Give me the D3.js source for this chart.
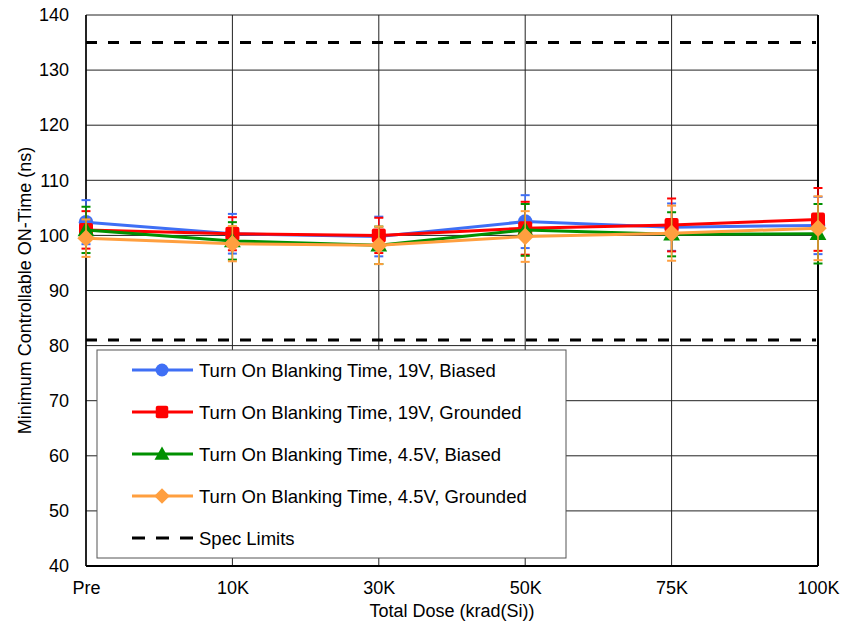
<!DOCTYPE html>
<html><head><meta charset="utf-8">
<script src="https://cdn.jsdelivr.net/npm/d3@7"></script>
<style>body{margin:0;background:#fff}svg{display:block;font-family:"Liberation Sans",Arial,sans-serif}</style>
</head><body>
<svg id="c" width="843" height="632"></svg>
<script>
const categories = ["Pre","10K","30K","50K","75K","100K"];
const yTicks = [40,50,60,70,80,90,100,110,120,130,140];
const blue19B   = [102.4,100.3,99.8,102.5,101.5,101.8];
const blue19Err = [4.0,3.6,3.6,4.8,4.3,5.2];
const red19G    = [101.0,100.3,100.0,101.3,101.9,102.9];
const red19Err  = [3.4,3.0,3.2,4.8,4.8,5.7];
const green45B  = [101.0,99.0,98.2,101.0,100.2,100.3];
const green45Err= [4.2,3.4,3.4,4.7,4.0,5.4];
const orange45G = [99.5,98.5,98.2,99.8,100.4,101.3];
const orange45Err=[3.4,3.2,3.4,4.6,5.0,5.8];
const specLimits = [135,81];
const seriesNames = ["Turn On Blanking Time, 19V, Biased","Turn On Blanking Time, 19V, Grounded","Turn On Blanking Time, 4.5V, Biased","Turn On Blanking Time, 4.5V, Grounded"];
const colors = ["#3F6FF5","#FF0000","#009000","#FF9F3F"];
const markers = ["circle","square","triangle","diamond"];

const series = [
  {name:seriesNames[0], vals:blue19B, err:blue19Err},
  {name:seriesNames[1], vals:red19G, err:red19Err},
  {name:seriesNames[2], vals:green45B, err:green45Err},
  {name:seriesNames[3], vals:orange45G, err:orange45Err}
];

const svg = d3.select("#c");
const L=86,R=818,T=15,B=566;
const FS=18;
const x = d3.scalePoint().domain(categories).range([L,R]).padding(0);
const y = d3.scaleLinear().domain([40,140]).range([B,T]);

// gridlines
svg.append("g").selectAll("line").data(yTicks).join("line")
  .attr("x1",L).attr("x2",R).attr("y1",d=>y(d)).attr("y2",d=>y(d))
  .attr("stroke","#222").attr("stroke-width",1);
svg.append("g").selectAll("line").data(categories).join("line")
  .attr("x1",d=>x(d)).attr("x2",d=>x(d)).attr("y1",T).attr("y2",B)
  .attr("stroke","#222").attr("stroke-width",1);
// frame
svg.append("line").attr("x1",L).attr("x2",L).attr("y1",T).attr("y2",B).attr("stroke","#000").attr("stroke-width",1.5);
svg.append("line").attr("x1",R).attr("x2",R).attr("y1",T).attr("y2",B).attr("stroke","#000").attr("stroke-width",2);
svg.append("line").attr("x1",L).attr("x2",R).attr("y1",B).attr("y2",B).attr("stroke","#000").attr("stroke-width",2);

// axes labels
const ya = d3.axisLeft(y).tickValues(yTicks).tickSize(0).tickPadding(17);
const gy = svg.append("g").attr("transform",`translate(${L},0)`).call(ya);
gy.select(".domain").remove();
gy.selectAll("text").attr("font-size",FS).attr("fill","#000").attr("font-family","Liberation Sans, Arial, sans-serif");
const xa = d3.axisBottom(x).tickSize(0).tickPadding(15);
const gx = svg.append("g").attr("transform",`translate(0,${B})`).call(xa);
gx.select(".domain").remove();
gx.selectAll("text").attr("font-size",FS).attr("fill","#000").attr("font-family","Liberation Sans, Arial, sans-serif");

svg.append("text").attr("x",(L+R)/2).attr("y",617).attr("text-anchor","middle").attr("font-size",FS).text("Total Dose (krad(Si))");
svg.append("text").attr("transform",`translate(31,${(T+B)/2}) rotate(-90)`).attr("text-anchor","middle").attr("font-size",FS).text("Minimum Controllable ON-Time (ns)");

// spec limits
svg.append("g").selectAll("line").data(specLimits).join("line")
  .attr("x1",L).attr("x2",R-2).attr("y1",d=>y(d)).attr("y2",d=>y(d))
  .attr("stroke","#000").attr("stroke-width",3).attr("stroke-dasharray","11,11");

function marker(g, type, cx, cy, color, s){
  if(type==="circle") g.append("circle").attr("cx",cx).attr("cy",cy).attr("r",s*0.52).attr("fill",color);
  else if(type==="square") g.append("rect").attr("x",cx-s/2).attr("y",cy-s/2).attr("width",s).attr("height",s).attr("rx",2).attr("fill",color);
  else if(type==="triangle") g.append("path").attr("d",`M${cx},${cy-s*0.6}L${cx+s*0.6},${cy+s*0.45}L${cx-s*0.6},${cy+s*0.45}Z`).attr("fill",color);
  else g.append("path").attr("d",`M${cx},${cy-s*0.62}L${cx+s*0.62},${cy}L${cx},${cy+s*0.62}L${cx-s*0.62},${cy}Z`).attr("fill",color);
}

const line = d3.line().x((d,i)=>x(categories[i])).y(d=>y(d));
series.forEach((s,k)=>{
  const g = svg.append("g");
  s.vals.forEach((v,i)=>{
    const cx = x(categories[i]);
    const hi = y(v+s.err[i]), lo = y(v-s.err[i]);
    g.append("line").attr("x1",cx).attr("x2",cx).attr("y1",hi).attr("y2",lo).attr("stroke",colors[k]).attr("stroke-width",1.5);
    [hi,lo].forEach(yy=>g.append("line").attr("x1",cx-4.5).attr("x2",cx+4.5).attr("y1",yy).attr("y2",yy).attr("stroke",colors[k]).attr("stroke-width",2));
  });
  g.append("path").datum(s.vals).attr("d",line).attr("fill","none").attr("stroke",colors[k]).attr("stroke-width",3);
  s.vals.forEach((v,i)=>marker(g,markers[k],x(categories[i]),y(v),colors[k],14));
});

// legend
const lg = svg.append("g");
lg.append("rect").attr("x",97).attr("y",350).attr("width",469).attr("height",208).attr("fill","#fff").attr("stroke","#555").attr("stroke-width",1);
const rows = [370,412,454,496];
series.forEach((s,k)=>{
  lg.append("line").attr("x1",132).attr("x2",193).attr("y1",rows[k]).attr("y2",rows[k]).attr("stroke",colors[k]).attr("stroke-width",3);
  marker(lg,markers[k],162,rows[k],colors[k],12.5);
  lg.append("text").attr("x",199).attr("y",rows[k]+7).attr("font-size",18.5).text(s.name);
});
lg.append("line").attr("x1",132).attr("x2",193).attr("y1",538).attr("y2",538).attr("stroke","#000").attr("stroke-width",3).attr("stroke-dasharray","13,11");
lg.append("text").attr("x",199).attr("y",545).attr("font-size",18.5).text("Spec Limits");
</script>
</body></html>
